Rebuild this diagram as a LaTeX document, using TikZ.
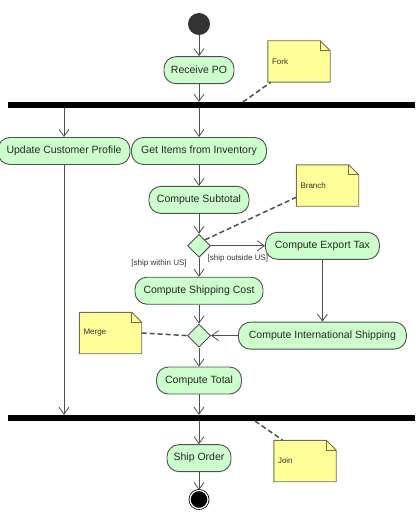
\documentclass[tikz,border=0pt]{standalone}
\usepackage{fontspec}
\setmainfont{Liberation Sans}
\usetikzlibrary{positioning,arrows.meta,shapes.geometric,backgrounds,calc}
\definecolor{actfill}{HTML}{CCFFCC}
\definecolor{actline}{HTML}{4F4F4F}
\definecolor{notefill}{HTML}{FFFF99}
\definecolor{noteline}{HTML}{6E6E50}
\definecolor{startfill}{HTML}{333333}
\begin{document}
\begin{tikzpicture}[x=1pt,y=-1pt,
  font=\fontsize{10.5}{12}\selectfont,
  act/.style={draw=actline,fill=actfill,rounded corners=12pt,minimum height=27pt,inner sep=2pt,line width=0.9pt,text=black!85},
  decision/.style={diamond,draw=actline,fill=actfill,line width=0.9pt,minimum width=23pt,minimum height=23pt,inner sep=0pt},
  bar/.style={fill=black,minimum height=6pt,inner sep=0pt},
  initial/.style={circle,fill=startfill,minimum size=22pt,inner sep=0pt},
  final/.style={circle,draw=black,line width=0.8pt,fill=black,double=white,double distance=1.2pt,minimum size=18pt,inner sep=0pt},
  note/.style={minimum width=62pt,minimum height=41pt,text width=54pt,align=left,inner sep=4pt,font=\fontsize{8}{9}\selectfont,text=black!80},
  guard/.style={font=\fontsize{8}{9}\selectfont,text=black!80,inner sep=1pt},
  arrow/.style={-{Straight Barb[length=7pt,width=10pt]},actline,line width=0.8pt},
  anchorline/.style={actline,line width=1.5pt,dash pattern=on 5pt off 3pt}]
\useasboundingbox (0,0) rectangle (415,524);
% main flow
\node[initial] (start) at (199,24) {};
\node[act,minimum width=70pt,below=21pt of start] (receive) {Receive PO};
\node[bar,minimum width=407pt] (fork) at (211.5,105) {};
\node[act,minimum width=132pt] (update) at (64,151) {Update Customer Profile};
\node[act,minimum width=135pt] (items) at (199,151) {Get Items from Inventory};
\node[act,minimum width=100pt,below=21pt of items] (subtotal) {Compute Subtotal};
\node[decision,below=20pt of subtotal] (branch) {};
\node[act,minimum width=128pt,below=19pt of branch] (shipcost) {Compute Shipping Cost};
\node[act,minimum width=114pt,right=54pt of branch] (exporttax) {Compute Export Tax};
\node[decision,below=19pt of shipcost] (merge) {};
\node[act,minimum width=168pt] (intship) at (exporttax |- merge) {Compute International Shipping};
\node[act,minimum width=85pt,below=19pt of merge] (total) {Compute Total};
\node[bar,minimum width=407pt] (join) at (211.5,418) {};
\node[act,minimum width=64pt,anchor=north] (ship) at ([yshift=-23pt]join.south -| items) {Ship Order};
\node[final,below=18pt of ship] (stop) {};
% notes
\node[note] (forknote) at (299,61.5) {Fork};
\node[note] (branchnote) at (327.5,185.5) {Branch};
\node[note] (mergenote) at (110.5,333) {Merge};
\node[note] (joinnote) at (305,461) {Join};
\begin{scope}[on background layer]
\foreach \n in {forknote,branchnote,mergenote,joinnote} {
  \draw[noteline,fill=notefill,line width=0.9pt] (\n.south west) -- (\n.north west) -- ([xshift=-10pt]\n.north east) -- ([yshift=-10pt]\n.north east) -- (\n.south east) -- cycle;
  \draw[noteline,line width=0.9pt] ([xshift=-10pt]\n.north east) |- ([yshift=-10pt]\n.north east);
}
\end{scope}
\coordinate (forkpin) at (243,102);
\coordinate (joinpin) at (255,421);
% connectors
\draw[arrow] (start) -- (receive);
\draw[arrow] (receive) -- (receive |- fork.north);
\draw[arrow] (fork.south -| update) -- (update);
\draw[arrow] (fork.south -| items) -- (items);
\draw[arrow] (items) -- (subtotal);
\draw[arrow] (subtotal) -- (branch);
\draw[arrow] (branch) -- node[guard,left=11pt,pos=0.3] {[ship within US]} (shipcost);
\draw[arrow] (branch) -- node[guard,below=8pt] {[ship outside US]} (exporttax);
\draw[arrow] (exporttax) -- (intship);
\draw[arrow] (intship) -- (merge);
\draw[arrow] (shipcost) -- (merge);
\draw[arrow] (merge) -- (total);
\draw[arrow] (total) -- (total |- join.north);
\draw[arrow] (update) -- (update |- join.north);
\draw[arrow] (join.south -| ship) -- (ship);
\draw[arrow] (ship) -- (stop);
% note anchors
\draw[anchorline] (forkpin) -- ([xshift=3pt]forknote.south west);
\draw[anchorline] (branch.north east) -- ([yshift=9pt]branchnote.south west);
\draw[anchorline] (mergenote.east) -- (merge.west);
\draw[anchorline] (joinpin) -- ([xshift=9pt]joinnote.north west);
\end{tikzpicture}
\end{document}
